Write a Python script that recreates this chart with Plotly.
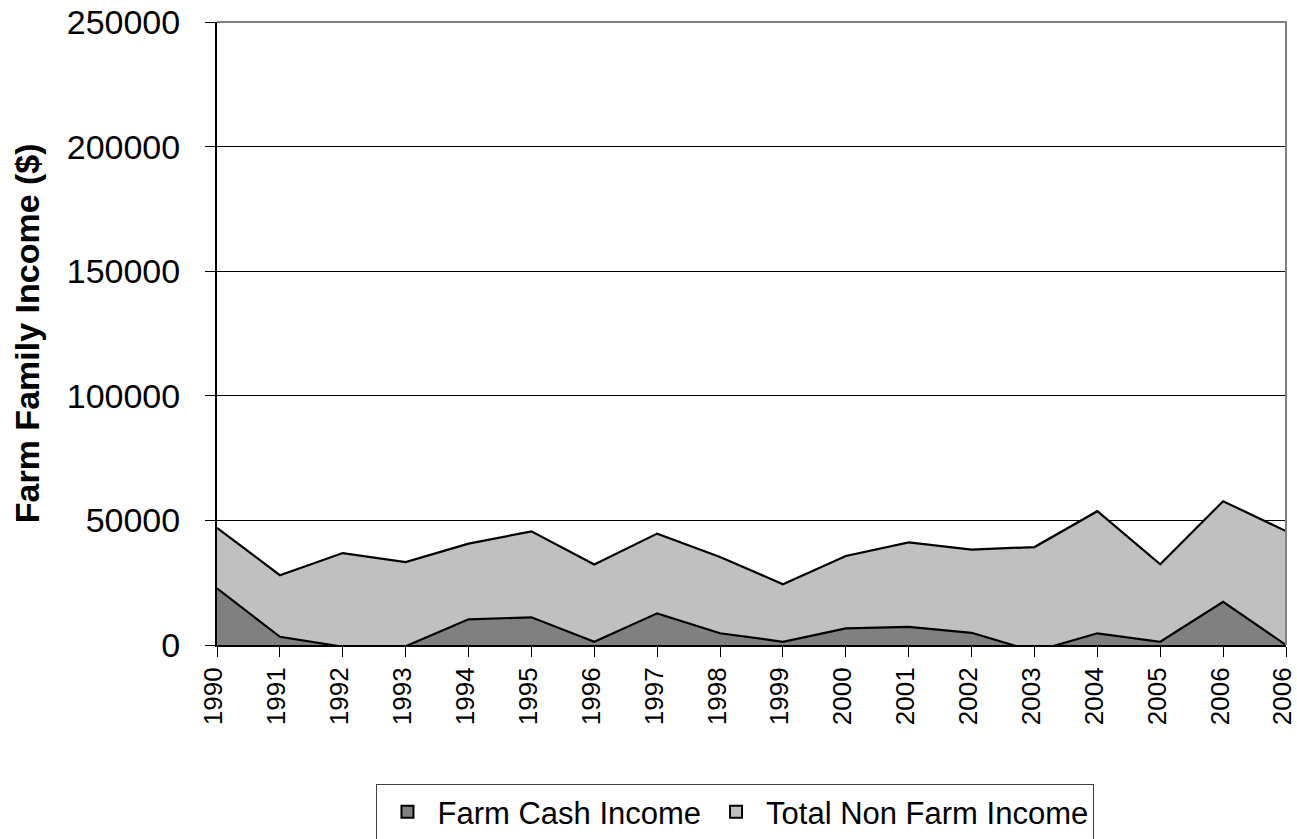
import plotly.graph_objects as go

years = ["1990", "1991", "1992", "1993", "1994", "1995", "1996", "1997", "1998",
         "1999", "2000", "2001", "2002", "2003", "2004", "2005", "2006", "2006"]
farm_cash = [22700, 3300, -700, -500, 10300, 11100, 1300, 12700, 4700,
             1300, 6700, 7300, 4900, -2600, 4700, 1300, 17300, 0]
non_farm = [24300, 24700, 37600, 33800, 30400, 34500, 31000, 32000, 30600,
            23100, 29000, 33900, 33400, 41900, 49000, 31100, 40400, 45700]
y_ticks = [0, 50000, 100000, 150000, 200000, 250000]
y_tick_text = [str(v) for v in y_ticks]
series_names = ["Farm Cash Income", "Total Non Farm Income"]
series_colors = ["#808080", "#c0c0c0"]

x = list(range(len(years)))
FONT = "Liberation Sans, Arial, sans-serif"

fig = go.Figure()
for vals, name, col in zip([farm_cash, non_farm], series_names, series_colors):
    fig.add_trace(go.Scatter(
        x=x, y=vals, name=name, stackgroup="one", mode="lines",
        line=dict(color="black", width=2.2), fillcolor=col, showlegend=False))
# legend markers (square swatches like the reference)
for name, col in zip(series_names, series_colors):
    fig.add_trace(go.Scatter(
        x=[None], y=[None], name=name, mode="markers",
        marker=dict(symbol="square", size=19, color=col,
                    line=dict(color="black", width=1.5))))

fig.update_layout(
    width=1297, height=839,
    margin=dict(l=217, r=11, t=22, b=194),
    paper_bgcolor="white", plot_bgcolor="white",
    font=dict(family=FONT, color="black", size=24),
    showlegend=True,
    legend=dict(orientation="h", x=0.485, xanchor="center",
                yref="container", y=1 - 784 / 839, yanchor="top",
                bordercolor="#404040", borderwidth=1, font=dict(size=31),
                traceorder="normal", itemsizing="constant", itemwidth=50),
    xaxis=dict(range=[0, 17], tickmode="array", tickvals=x, ticktext=years,
               tickangle=-90, ticks="outside", ticklen=10, tickcolor="black",
               showline=True, linecolor="black", linewidth=2, showgrid=False,
               zeroline=False, tickfont=dict(size=26), automargin=False,
               ticklabeloverflow="allow", ticklabelshift=-3),
    yaxis=dict(range=[0, 250000], tickmode="array", tickvals=y_ticks,
               ticktext=y_tick_text, ticks="outside", ticklen=10,
               tickcolor="black", showline=True, linecolor="black", linewidth=2,
               showgrid=True, gridcolor="black", gridwidth=1, zeroline=False,
               tickfont=dict(size=34), ticklabelstandoff=18, automargin=False,
               ticklabeloverflow="allow"),
    shapes=[dict(type="path", xref="paper", yref="paper",
                 path="M 0 1 L 1 1 L 1 0",
                 line=dict(color="#808080", width=2), layer="above")],
    annotations=[dict(text="<b>Farm Family Income ($)</b>", xref="paper", yref="paper",
                      x=-0.178, y=0.50, textangle=-90, showarrow=False,
                      font=dict(size=34), xanchor="center", yanchor="middle")],
)

fig.write_html("out.html", config={"displayModeBar": False},
               post_script="document.body.style.margin='0';document.body.style.overflow='hidden';")
